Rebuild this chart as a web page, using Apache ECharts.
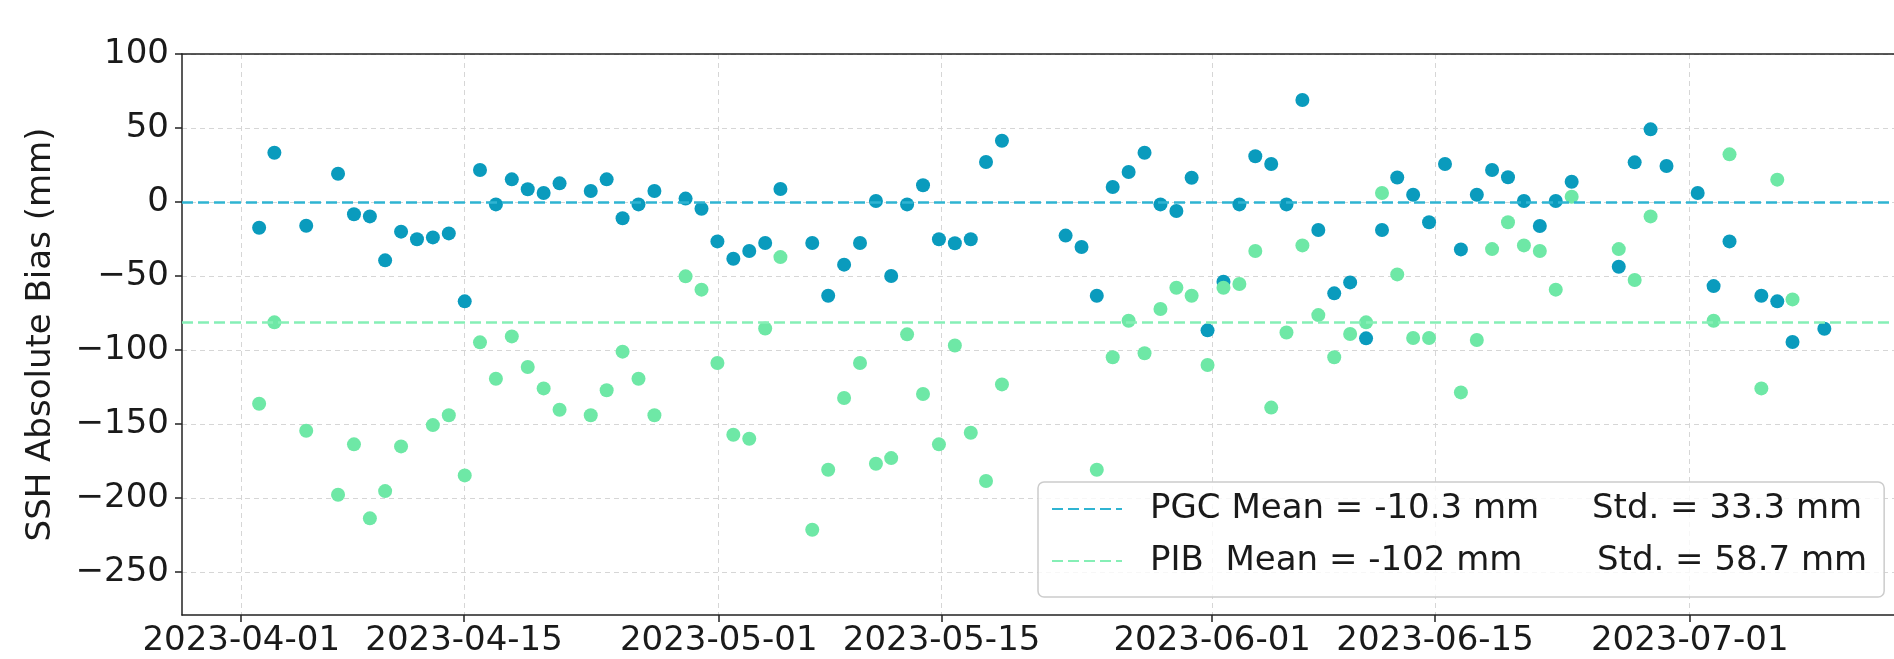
<!DOCTYPE html>
<html><head><meta charset="utf-8">
<script src="https://cdn.jsdelivr.net/npm/echarts@6/dist/echarts.min.js"></script>
<style>html,body{margin:0;padding:0;background:#fff}#c{width:1894px;height:659px}</style>
</head><body><div id="c"></div>
<script>
// Pass times (passes drift slightly earlier each day)
const passTimes = [
'2023-04-02 03:00','2023-04-03 02:00','2023-04-05 02:00','2023-04-07 02:00','2023-04-08 02:00',
'2023-04-09 02:00','2023-04-10 01:00','2023-04-11 01:00','2023-04-12 01:00','2023-04-13 01:00',
'2023-04-14 01:00','2023-04-15 01:00','2023-04-16 00:00','2023-04-17 00:00','2023-04-18 00:00',
'2023-04-19 00:00','2023-04-20 00:00','2023-04-21 00:00','2023-04-22 23:00','2023-04-23 23:00',
'2023-04-24 23:00','2023-04-25 23:00','2023-04-26 23:00','2023-04-28 22:00','2023-04-29 22:00',
'2023-04-30 22:00','2023-05-01 22:00','2023-05-02 22:00','2023-05-03 22:00','2023-05-04 21:00',
'2023-05-06 21:00','2023-05-07 21:00','2023-05-08 21:00','2023-05-09 21:00','2023-05-10 21:00',
'2023-05-11 20:00','2023-05-12 20:00','2023-05-13 20:00','2023-05-14 20:00','2023-05-15 20:00',
'2023-05-16 20:00','2023-05-17 19:00','2023-05-18 19:00','2023-05-22 19:00','2023-05-23 19:00',
'2023-05-24 18:00','2023-05-25 18:00','2023-05-26 18:00','2023-05-27 18:00','2023-05-28 18:00',
'2023-05-29 18:00','2023-05-30 17:00','2023-05-31 17:00','2023-06-01 17:00','2023-06-02 17:00',
'2023-06-03 17:00','2023-06-04 17:00','2023-06-05 16:00','2023-06-06 16:00','2023-06-07 16:00',
'2023-06-08 16:00','2023-06-09 16:00','2023-06-10 16:00','2023-06-11 16:00','2023-06-12 15:00',
'2023-06-13 15:00','2023-06-14 15:00','2023-06-15 15:00','2023-06-16 15:00','2023-06-17 15:00',
'2023-06-18 14:00','2023-06-19 14:00','2023-06-20 14:00','2023-06-21 14:00','2023-06-22 14:00',
'2023-06-23 14:00','2023-06-26 13:00','2023-06-27 13:00','2023-06-28 13:00','2023-06-29 13:00',
'2023-07-01 12:00','2023-07-02 12:00','2023-07-03 12:00','2023-07-05 12:00','2023-07-06 12:00',
'2023-07-07 11:00','2023-07-09 11:00'
];
const pgcBias = [
-17.4, 33.3, -16, 19.1, -8.3,
-9.7, -39.4, -20, -25.2, -23.9,
-21.2, -67.1, 21.6, -1.6, 15.3,
8.6, 6.1, 12.6, 7.4, 15.3,
-11, -1.6, 7.4, 2.3, -4.5,
-26.6, -38.3, -33.1, -27.7, 8.8,
-27.7, -63.3, -42.3, -27.7, 0.7,
-50, -1.6, 11.3, -25.2, -27.9,
-25.2, 27, 41.4, -22.7, -30.4,
-63.3, 10.1, 20.3, 33.3, -1.6,
-6.1, 16.4, -86.7, -53.8, -1.6,
30.9, 25.7, -1.6, 68.9, -18.9,
-61.7, -54.3, -92.1, -18.9, 16.6,
4.9, -13.7, 25.7, -32, 4.9,
21.6, 16.7, 0.7, -16.2, 0.7,
13.7, -43.7, 26.8, 49.1, 24.3,
6.1, -56.8, -26.6, -63.3, -67.1,
-94.6, -85.6
];
const pibBias = [
-136.3, -81.3, -154.5, -197.8, -163.7,
-213.7, -195.3, -165.1, null, -150.7,
-144.1, -184.7, -94.8, -119.4, -90.8,
-111.5, -125.9, -140.3, -144.1, -127.2,
-101.1, -119.4, -144.1, -50.2, -59.2,
-108.8, -157.2, -159.9, -85.4, -37.2,
-221.4, -180.9, -132.4, -108.8, -176.8,
-173, -89.4, -129.7, -163.7, -96.9,
-155.9, -188.5, -123.2, null, null,
-180.9, -104.9, -80.2, -102.2, -72.3,
-57.9, -63.3, -110.1, -57.9, -55.4,
-33.1, -138.9, -88.1, -29.3, -76.4,
-104.9, -89.2, -81.3, 6.1, -48.9,
-91.9, -91.9, null, -128.6, -93.2,
-31.8, -13.7, -29.3, -33.1, -59.2,
3.6, -31.8, -52.7, -9.7, null,
null, -80.2, 32.2, -125.9, 15.1,
-65.8, null
];
const seriesNames = ['PGC', 'PIB'];
const meanLineLevels = [0, -81];
const legendMean = ['PGC Mean = -10.3 mm', 'PIB  Mean = -102 mm'];
const legendStd = ['Std. = 33.3 mm', 'Std. = 58.7 mm'];
const xTickDates = ['2023-04-01','2023-04-15','2023-05-01','2023-05-15','2023-06-01','2023-06-15','2023-07-01'];
const yTicks = [-250, -200, -150, -100, -50, 0, 50, 100];
const xRange = ['2023-03-28 06:43', '2023-07-13 20:00'];
const yRange = [-279, 100];
const yTitle = 'SSH Absolute Bias (mm)';

const dotColors = ['#0a9bbd', '#6ee8a6'];
const lineColors = ['#2fb4d2', '#86efb6'];
const FONT = 'DejaVu Sans';
const FS = 34;

const toTs = s => +echarts.time.parse(s);
const xMin = toTs(xRange[0]), xMax = toTs(xRange[1]);
const xTickVals = xTickDates.map(toTs);
const pad = n => (n < 10 ? '0' : '') + n;

function pts(vals) {
  const out = [];
  passTimes.forEach((t, i) => { if (vals[i] != null) out.push([toTs(t), vals[i]]); });
  return out;
}

const legendNames = [0, 1].map(i => legendMean[i] + '|' + legendStd[i]);

const series = [];
[0, 1].forEach(i => {
  series.push({
    name: legendNames[i], type: 'line', data: [], showSymbol: false, symbol: 'none',
    lineStyle: { color: lineColors[i], width: 2.5, type: [11, 5] },
    itemStyle: { color: 'rgba(0,0,0,0)', opacity: 0 },
    z: 2,
    markLine: {
      silent: true, symbol: 'none', label: { show: false },
      lineStyle: { color: lineColors[i], width: 2.5, type: [11, 5], opacity: 1 },
      emphasis: { disabled: true },
      data: [{ yAxis: meanLineLevels[i] }]
    }
  });
});
[pgcBias, pibBias].forEach((vals, i) => {
  series.push({
    name: seriesNames[i], type: 'scatter', data: pts(vals), symbolSize: 14,
    itemStyle: { color: dotColors[i], opacity: 1 }, z: 3 + i
  });
});

const txt = { fontSize: FS, fontFamily: FONT, color: '#1a1a1a' };

const chart = echarts.init(document.getElementById('c'), null, { renderer: 'canvas' });
chart.setOption({
  animation: false,
  backgroundColor: '#ffffff',
  grid: { left: 182, top: 54, right: 0, bottom: 44 },
  xAxis: [{
    type: 'value', min: xMin, max: xMax, scale: true,
    axisLine: { show: true, onZero: false, lineStyle: { color: '#222', width: 1.5 } },
    axisTick: { show: true, inside: false, length: 7, customValues: xTickVals, lineStyle: { color: '#222', width: 1.5 } },
    axisLabel: Object.assign({
      customValues: xTickVals, margin: 9,
      hideOverlap: false, showMinLabel: true, showMaxLabel: true,
      formatter: v => { const d = new Date(v); return d.getFullYear() + '-' + pad(d.getMonth() + 1) + '-' + pad(d.getDate()); }
    }, txt),
    splitLine: { show: true, lineStyle: { color: '#d6d6d6', width: 1, type: [5, 4] } }
  }, {
    type: 'value', min: xMin, max: xMax, position: 'top', scale: true,
    axisLine: { show: true, onZero: false, lineStyle: { color: '#222', width: 1.5 } },
    axisTick: { show: false }, axisLabel: { show: false }, splitLine: { show: false }
  }],
  yAxis: {
    type: 'value', min: yRange[0], max: yRange[1],
    name: yTitle, nameLocation: 'middle', nameRotate: 90, nameGap: 124,
    nameTextStyle: txt,
    axisLine: { show: true, lineStyle: { color: '#222', width: 1.5 } },
    axisTick: { show: true, inside: false, length: 7, customValues: yTicks, lineStyle: { color: '#222', width: 1.5 } },
    axisLabel: Object.assign({
      customValues: yTicks, margin: 13,
      formatter: v => String(v).replace('-', '\u2212')
    }, txt),
    splitLine: { show: true, lineStyle: { color: '#d6d6d6', width: 1, type: [5, 4] } }
  },
  legend: {
    data: legendNames, orient: 'vertical', left: 1038, top: 482,
    itemWidth: 70, itemHeight: 14, itemGap: 16,
    padding: [9, 17, 18, 13],
    borderColor: '#cccccc', borderWidth: 1.5, borderRadius: 6,
    backgroundColor: 'rgba(255,255,255,0.8)',
    itemStyle: { opacity: 0 },
    selectedMode: false, z: 10,
    textStyle: Object.assign({
      lineHeight: 36,
      rich: {
        s: { width: 23 },
        a0: Object.assign({ width: 442, lineHeight: 36 }, txt),
        a1: Object.assign({ width: 447, lineHeight: 36 }, txt),
        b: Object.assign({ lineHeight: 36 }, txt)
      }
    }, txt),
    formatter: name => {
      const i = legendNames.indexOf(name);
      return '{s|}{a' + i + '|' + legendMean[i] + '}{b|' + legendStd[i] + '}';
    }
  },
  series: series
});
</script></body></html>
